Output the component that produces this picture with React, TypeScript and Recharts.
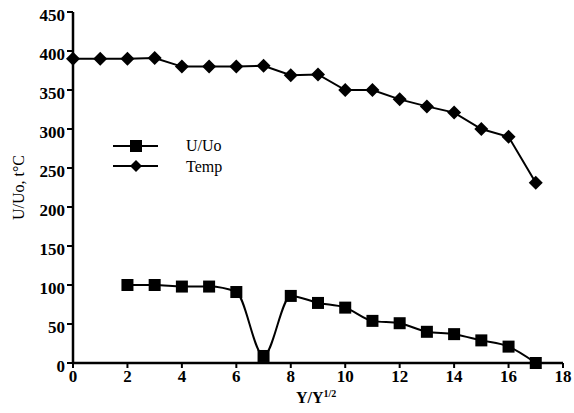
import { ComposedChart, Line, XAxis, YAxis, Legend } from 'recharts';

const positions = [0, 1, 2, 3, 4, 5, 6, 7, 8, 9, 10, 11, 12, 13, 14, 15, 16, 17];
const tempValues = [390, 390, 390, 391, 380, 380, 380, 381, 369, 370, 350, 350, 338, 329, 321, 300, 290, 231];
const uValues = [null, null, 100, 100, 98, 98, 91, 9, 86, 77, 71, 54, 51, 40, 37, 29, 21, 0];
const xTicks = [0, 2, 4, 6, 8, 10, 12, 14, 16, 18];
const yTicks = [0, 50, 100, 150, 200, 250, 300, 350, 400, 450];

const data = positions.map((x, i) => ({ x, temp: tempValues[i], u: uValues[i] }));

const font = "'Liberation Serif', 'Times New Roman', serif";

function SquareDot(props: any) {
  const { cx, cy } = props;
  if (cx == null || cy == null || props.value == null) return null;
  return <rect x={cx - 6} y={cy - 6} width={12} height={12} fill="#000" />;
}

function DiamondDot(props: any) {
  const { cx, cy } = props;
  if (cx == null || cy == null) return null;
  return <polygon points={`${cx},${cy - 7} ${cx + 7},${cy} ${cx},${cy + 7} ${cx - 7},${cy}`} fill="#000" />;
}

function LegendBox() {
  return (
    <svg width={140} height={44} style={{ display: 'block' }}>
      <line x1={5} y1={12} x2={50} y2={12} stroke="#000" strokeWidth={2} />
      <rect x={22} y={6} width={12} height={12} fill="#000" />
      <text x={78} y={17} fontFamily={font} fontSize={16} fill="#000">U/Uo</text>
      <line x1={5} y1={32} x2={50} y2={32} stroke="#000" strokeWidth={2} />
      <polygon points="28,26 34,32 28,38 22,32" fill="#000" />
      <text x={78} y={38} fontFamily={font} fontSize={16} fill="#000">Temp</text>
    </svg>
  );
}

function XLabel(props: any) {
  const { viewBox } = props;
  const cx = viewBox.x + viewBox.width / 2;
  return (
    <text x={cx - 22} y={403} fontFamily={font} fontSize={16} fontWeight="bold" fill="#000">
      Y/Y<tspan dy={-6} fontSize={10}>1/2</tspan>
    </text>
  );
}

export default function App() {
  return (
    <div style={{ position: 'absolute', left: 0, top: 0, background: '#fff' }}>
      <ComposedChart width={574} height={413} data={data} margin={{ top: 12, right: 11, left: 20, bottom: 20 }}>
        <XAxis
          dataKey="x"
          type="number"
          domain={[0, 18]}
          ticks={xTicks}
          axisLine={{ stroke: '#000', strokeWidth: 2.5 }}
          tickLine={{ stroke: '#000', strokeWidth: 2 }}
          tickSize={5}
          height={30}
          tick={{ fill: '#000', fontFamily: font, fontSize: 17, fontWeight: 'bold' }}
          label={<XLabel />}
        />
        <YAxis
          type="number"
          domain={[0, 450]}
          ticks={yTicks}
          width={53}
          axisLine={{ stroke: '#000', strokeWidth: 2.5 }}
          tickLine={{ stroke: '#000', strokeWidth: 2 }}
          tickSize={6}
          tickMargin={2}
          tick={{ fill: '#000', fontFamily: font, fontSize: 17, fontWeight: 'bold', dy: 3 }}
          label={{ value: 'U/Uo, t°C', angle: -90, position: 'insideLeft', dx: -7, fill: '#000', style: { fill: '#000', fontFamily: font, fontSize: 16, textAnchor: 'middle' } }}
        />
        <Legend
          layout="horizontal"
          verticalAlign="middle"
          align="center"
          content={<LegendBox />}
          wrapperStyle={{ left: 108, top: 134, width: 140, height: 44 }}
        />
        <Line
          type="monotone"
          dataKey="u"
          stroke="#000"
          strokeWidth={2}
          dot={<SquareDot />}
          activeDot={false}
          isAnimationActive={false}
        />
        <Line
          type="linear"
          dataKey="temp"
          stroke="#000"
          strokeWidth={2}
          dot={<DiamondDot />}
          activeDot={false}
          isAnimationActive={false}
        />
      </ComposedChart>
    </div>
  );
}
